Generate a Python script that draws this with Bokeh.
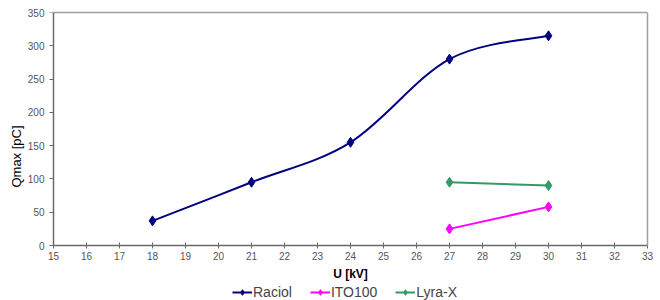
from bokeh.plotting import figure
from bokeh.models import Range1d, FixedTicker, Legend, LegendItem, LinearAxis
from bokeh.embed import file_html
from bokeh.resources import INLINE

# data
raciol_x = [18, 21, 24, 27, 30]
raciol_y = [37, 95, 155, 280, 315]
ito_x = [27, 30]
ito_y = [25, 58]
lyra_x = [27, 30]
lyra_y = [95, 90]
x_ticks = list(range(15, 34))
y_ticks = list(range(0, 351, 50))

NAVY = "#000080"
MAGENTA = "#FF00FF"
GREEN = "#339966"
FONT = "Liberation Sans"
BORDER = "#a0a0a0"
AXIS = "#6a6a6a"

X_MIN, X_MAX = 15, 33
Y_MAX = 350
# layout: 33px per kV, 8px spare on each side for the end tick labels;
# 233px for 0..350 plus 55px below zero for axis labels and legend
PAD = 8 / 33
Y_MIN = -Y_MAX * 55 / 233

p = figure(frame_width=610, frame_height=288, output_backend="svg", toolbar_location=None,
           x_range=Range1d(X_MIN - PAD, X_MAX + PAD), y_range=Range1d(Y_MIN, Y_MAX),
           min_border_left=45, min_border_right=0, min_border_top=12, min_border_bottom=0)
p.grid.visible = False
p.outline_line_color = None

# x axis drawn at y = 0
xa = p.xaxis[0]
xa.fixed_location = 0
xa.bounds = (X_MIN, X_MAX)
xa.ticker = FixedTicker(ticks=x_ticks)
xa.axis_line_color = AXIS
xa.axis_line_width = 1.5
xa.major_tick_line_color = AXIS
xa.minor_tick_line_color = None
xa.major_tick_in = 3
xa.major_tick_out = 3
xa.major_label_standoff = 3
xa.major_label_text_font = FONT
xa.major_label_text_font_size = "10px"
xa.major_label_text_color = "#555555"
xa.axis_label = "U [kV]"
xa.axis_label_text_font = FONT
xa.axis_label_text_font_style = "bold"
xa.axis_label_text_font_size = "12px"
xa.axis_label_text_color = "#000000"
xa.axis_label_standoff = 4

# y axis labels (left panel)
ya = p.yaxis[0]
ya.ticker = FixedTicker(ticks=y_ticks)
ya.axis_line_color = None
ya.major_tick_line_color = None
ya.minor_tick_line_color = None
ya.major_tick_in = 0
ya.major_tick_out = 0
ya.major_label_standoff = 1
ya.major_label_text_font = FONT
ya.major_label_text_font_size = "10px"
ya.major_label_text_color = "#555555"
ya.axis_label = "Qmax [pC]"
ya.axis_label_text_font = FONT
ya.axis_label_text_font_style = "normal"
ya.axis_label_text_font_size = "13px"
ya.axis_label_text_color = "#000000"
ya.axis_label_standoff = 1

# y axis line and ticks at x = 15
y_line = LinearAxis(fixed_location=X_MIN, bounds=(0, Y_MAX), ticker=FixedTicker(ticks=y_ticks),
                    axis_line_color=AXIS, axis_line_width=1.5, major_tick_line_color=AXIS,
                    minor_tick_line_color=None, major_tick_in=4, major_tick_out=0,
                    major_label_text_font_size="0px", major_label_text_alpha=0)
p.add_layout(y_line, "right")

# grey plot-area border on top and right
top_border = LinearAxis(ticker=FixedTicker(ticks=[]), bounds=(X_MIN, X_MAX), axis_line_color=BORDER,
                        axis_line_width=1.5, major_tick_line_color=None, minor_tick_line_color=None)
right_border = LinearAxis(fixed_location=X_MAX, ticker=FixedTicker(ticks=[]), bounds=(0, Y_MAX),
                          axis_line_color=BORDER, axis_line_width=1.5,
                          major_tick_line_color=None, minor_tick_line_color=None)
p.add_layout(top_border, "above")
p.add_layout(right_border, "right")

# smoothed Raciol line (Catmull-Rom style bezier segments from the data)
n = len(raciol_x)
x0s, y0s, x1s, y1s, c0x, c0y, c1x, c1y = [], [], [], [], [], [], [], []
for i in range(n - 1):
    xa_, ya_ = raciol_x[i], raciol_y[i]
    xb, yb = raciol_x[i + 1], raciol_y[i + 1]
    xp, yp = (raciol_x[i - 1], raciol_y[i - 1]) if i > 0 else (xa_, ya_)
    xn, yn = (raciol_x[i + 2], raciol_y[i + 2]) if i + 2 < n else (xb, yb)
    x0s.append(xa_); y0s.append(ya_); x1s.append(xb); y1s.append(yb)
    c0x.append(xa_ + (xb - xp) / 6); c0y.append(ya_ + (yb - yp) / 6)
    c1x.append(xb - (xn - xa_) / 6); c1y.append(yb - (yn - ya_) / 6)

r_line = p.bezier(x0=x0s, y0=y0s, x1=x1s, y1=y1s, cx0=c0x, cy0=c0y, cx1=c1x, cy1=c1y,
                  line_color=NAVY, line_width=2)
r_pts = p.scatter(raciol_x, raciol_y, marker="diamond", size=10, color=NAVY)

i_line = p.line(ito_x, ito_y, line_color=MAGENTA, line_width=2)
i_pts = p.scatter(ito_x, ito_y, marker="diamond", size=10, color=MAGENTA)

l_line = p.line(lyra_x, lyra_y, line_color=GREEN, line_width=2)
l_pts = p.scatter(lyra_x, lyra_y, marker="diamond", size=10, color=GREEN)

legend = Legend(items=[
    LegendItem(label="Raciol", renderers=[r_line, r_pts]),
    LegendItem(label="ITO100", renderers=[i_line, i_pts]),
    LegendItem(label="Lyra-X", renderers=[l_line, l_pts]),
], orientation="horizontal", location=(187, 0))
legend.label_text_font = FONT
legend.label_text_font_size = "14px"
legend.label_standoff = 1
legend.glyph_width = 20
legend.glyph_height = 14
legend.label_height = 14
legend.spacing = 18
legend.padding = 1
legend.margin = 0
legend.border_line_color = None
legend.background_fill_alpha = 0
p.add_layout(legend, "center")

open("out.html", "w").write(file_html(p, INLINE))
